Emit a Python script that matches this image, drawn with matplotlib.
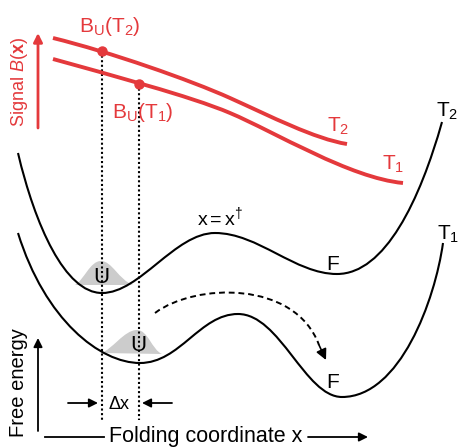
import matplotlib
matplotlib.use('Agg')
import matplotlib.pyplot as plt
from matplotlib.path import Path
from matplotlib.patches import PathPatch

plt.rcParams['font.family'] = ['Liberation Sans', 'DejaVu Sans']
plt.rcParams['mathtext.fontset'] = 'custom'
plt.rcParams['mathtext.rm'] = 'Liberation Sans'
plt.rcParams['mathtext.it'] = 'Liberation Sans:italic'
plt.rcParams['mathtext.bf'] = 'Liberation Sans:bold'

# control points (picture pixels) of the schematic curves, cubic bezier chains
energy_t2 = [(18, 153), (35, 225), (65, 293), (102, 293), (140, 293), (175, 233), (215, 233),
             (258, 233), (295, 274), (337, 274), (385, 274), (420, 200), (442, 122)]
energy_t1 = [(18, 233), (45, 320), (100, 363), (140, 363), (180, 363), (200, 314), (238, 314),
             (280, 314), (305, 397), (342, 397), (400, 397), (435, 300), (443, 243)]
signal_t2 = [(53, 38), (110, 52), (190, 80), (230, 98), (270, 116), (315, 139), (347, 144)]
signal_t1 = [(53, 59), (110, 75), (190, 96), (230, 113), (275, 132), (350, 178), (403, 183)]
bell_upper = [(75, 285), (84, 280), (90, 261), (101, 261), (112, 261), (119, 280), (133, 285)]
bell_lower = [(101, 353), (112, 350), (124, 330), (137, 330), (148, 330), (152, 350), (162, 354)]
flow_path = [(155, 313), (195, 283), (295, 280), (319, 345)]
flow_tip = (326, 360)

# positions of U (dotted guides) and the signal points
x_u = [102, 139]
b_u = [51, 84]
guide_bottom = 420

red = '#e4393c'


def bezier(pts):
    codes = [Path.MOVETO] + [Path.CURVE4] * (len(pts) - 1)
    return Path(pts, codes)


def closed(pts):
    return Path(pts + [pts[0]], [Path.MOVETO] + [Path.CURVE4] * (len(pts) - 1) + [Path.CLOSEPOLY])


fig = plt.figure(figsize=(4.61, 4.47), dpi=100)
ax = fig.add_axes([0, 0, 1, 1])
ax.set_xlim(0, 461)
ax.set_ylim(447, 0)
ax.axis('off')

# gray populations
for b in [bell_upper, bell_lower]:
    ax.add_patch(PathPatch(closed(b), facecolor='#cccccc', edgecolor='none', zorder=1))

# free energy curves
for c in [energy_t2, energy_t1]:
    ax.add_patch(PathPatch(bezier(c), facecolor='none', edgecolor='k', lw=1.5, zorder=2))

# signal curves
for c in [signal_t2, signal_t1]:
    ax.add_patch(PathPatch(bezier(c), facecolor='none', edgecolor=red, lw=2.8,
                           capstyle='butt', zorder=3))

# dotted guides + points
for xv, yv in zip(x_u, b_u):
    ax.plot([xv, xv], [yv, guide_bottom], ls=(0, (1, 1.2)), color='k', lw=1.5, zorder=2)
ax.plot(x_u, b_u, 'o', color=red, ms=6.5, zorder=4)

# folding path arrow
ax.add_patch(PathPatch(bezier(flow_path), facecolor='none', edgecolor='k', lw=1.4,
                       ls=(0, (3, 2)), zorder=2))
ax.annotate('', xy=flow_tip, xytext=flow_path[-1],
            arrowprops=dict(arrowstyle='-|>', color='k', lw=1.2, mutation_scale=16,
                            shrinkA=0, shrinkB=0))

arr = dict(arrowstyle='-|>', color='k', lw=1.3, mutation_scale=13, shrinkA=0, shrinkB=0)
# delta x arrows
ax.annotate('', xy=(98, 403), xytext=(68, 403), arrowprops=arr)
ax.annotate('', xy=(142, 403), xytext=(172, 403), arrowprops=arr)
ax.text(119, 409, 'Δx', fontsize=13, ha='center', va='baseline')

# axes arrows
ax.annotate('', xy=(38, 338), xytext=(38, 431), arrowprops=arr)
ax.plot([45, 104], [437, 437], color='k', lw=1.3)
ax.annotate('', xy=(368, 437), xytext=(308, 437), arrowprops=arr)
ax.text(206, 442, 'Folding coordinate x', fontsize=15.5, ha='center', va='baseline')
ax.text(19, 383, 'Free energy', fontsize=14.5, rotation=90, ha='center', va='center')

# signal axis
ax.annotate('', xy=(38, 33), xytext=(38, 128),
            arrowprops=dict(arrowstyle='-|>', color=red, lw=2, mutation_scale=13,
                            shrinkA=0, shrinkB=0))
ax.text(19, 82, r'Signal $\it{B}$($\bf{x}$)', fontsize=13, rotation=90, color=red,
        ha='center', va='center')

# labels
ax.text(110, 32, r'$\mathregular{B_U(T_2)}$', fontsize=15, color=red, ha='center', va='baseline')
ax.text(143, 118, r'$\mathregular{B_U(T_1)}$', fontsize=15, color=red, ha='center', va='baseline')
ax.text(327, 132, r'$\mathregular{T_2}$', fontsize=15, color=red, ha='left', va='baseline')
ax.text(382, 170, r'$\mathregular{T_1}$', fontsize=15, color=red, ha='left', va='baseline')
ax.text(436, 117, r'$\mathregular{T_2}$', fontsize=15, ha='left', va='baseline')
ax.text(437, 240, r'$\mathregular{T_1}$', fontsize=15, ha='left', va='baseline')
ax.text(197, 225, r'$\mathregular{x=x^†}$', fontsize=14, ha='left', va='baseline')
ax.text(101, 283, 'U', fontsize=16, ha='center', va='baseline', zorder=5)
ax.text(138, 351, 'U', fontsize=16, ha='center', va='baseline', zorder=5)
ax.text(333, 270, 'F', fontsize=15, ha='center', va='baseline')
ax.text(333, 388, 'F', fontsize=15, ha='center', va='baseline')

fig.savefig('out.png', dpi=100)
